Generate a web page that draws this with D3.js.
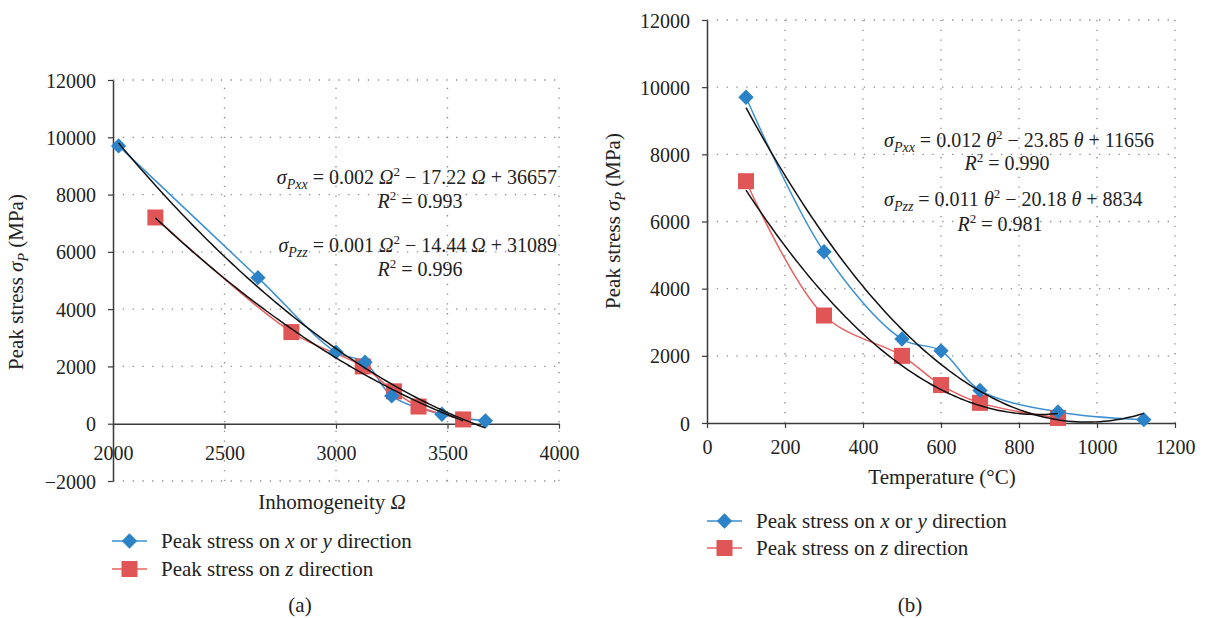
<!DOCTYPE html>
<html><head><meta charset="utf-8">
<script src="https://cdn.jsdelivr.net/npm/d3@7"></script>
<style>
body{margin:0;background:#fff;}
svg{display:block;font-family:"Liberation Serif","Times New Roman",serif;}
</style></head>
<body><svg id="c" width="1205" height="618"></svg>
<script>
// ---------- data ----------
const inhomXY = [2025, 2650, 3000, 3130, 3250, 3475, 3670];
const inhomZ  = [2190, 2800, 3120, 3260, 3370, 3570];
const tempXY  = [100, 300, 500, 600, 700, 900, 1120];
const tempZ   = [100, 300, 500, 600, 700, 900];
const stressXY = [9700, 5100, 2500, 2150, 970, 330, 100];
const stressZ  = [7200, 3200, 2000, 1130, 600, 150];
const ticksInhom = [2000, 2500, 3000, 3500, 4000];
const ticksStressA = [-2000, 0, 2000, 4000, 6000, 8000, 10000, 12000];
const ticksTemp = [0, 200, 400, 600, 800, 1000, 1200];
const ticksStressB = [0, 2000, 4000, 6000, 8000, 10000, 12000];
const seriesNames = ["Peak stress on x or y direction", "Peak stress on z direction"];

const BLUE = "#2b82c6", BLUE_L = "#3b8fd2", RED = "#e05656", RED_L = "#e66060";
const FS = 20, FT = 21;
const svg = d3.select("#c");

function quadFit(xs, ys){
  const m = d3.mean(xs);
  let S=[0,0,0,0,0], T=[0,0,0];
  xs.forEach((x,i)=>{const u=x-m; for(let k=0;k<5;k++) S[k]+=Math.pow(u,k); for(let k=0;k<3;k++) T[k]+=ys[i]*Math.pow(u,k);});
  const A=[[S[0],S[1],S[2],T[0]],[S[1],S[2],S[3],T[1]],[S[2],S[3],S[4],T[2]]];
  for(let i=0;i<3;i++){for(let j=i+1;j<3;j++){const f=A[j][i]/A[i][i];for(let k=i;k<4;k++)A[j][k]-=f*A[i][k];}}
  const c=[0,0,0];
  for(let i=2;i>=0;i--){let s=A[i][3];for(let k=i+1;k<3;k++)s-=A[i][k]*c[k];c[i]=s/A[i][i];}
  return x=>{const u=x-m;return c[0]+c[1]*u+c[2]*u*u;};
}

function panel(o){
  const g = svg.append("g");
  const x = d3.scaleLinear().domain(o.xd).range(o.xr);
  const y = d3.scaleLinear().domain(o.yd).range(o.yr);
  // grid
  g.selectAll(".hg").data(o.yTicks.filter(t=>t!==0)).join("line")
    .attr("x1",o.xr[0]).attr("x2",o.xr[1]).attr("y1",d=>y(d)).attr("y2",d=>y(d))
    .attr("stroke","#8a8a8a").attr("stroke-width",1.3).attr("stroke-dasharray","1.3,8.5");
  g.selectAll(".vg").data(o.xTicks.slice(1)).join("line")
    .attr("x1",d=>x(d)).attr("x2",d=>x(d)).attr("y1",o.yr[0]).attr("y2",o.yr[1])
    .attr("stroke","#8a8a8a").attr("stroke-width",1.3).attr("stroke-dasharray","1.3,8.5");
  // x axis at 0
  const xa = g.append("g").attr("transform",`translate(0,${y(0)})`)
    .call(d3.axisBottom(x).tickValues(o.xTicks).tickSize(5).tickSizeOuter(0).tickFormat(d3.format("d")));
  xa.attr("font-family",null).attr("font-size",null);
  xa.select(".domain").attr("stroke","#3a3a3a").attr("stroke-width",1.5);
  xa.selectAll(".tick line").attr("stroke","#3a3a3a").attr("stroke-width",1.2);
  xa.selectAll(".tick text").attr("font-size",FS).attr("fill","#222")
    .attr("dy",null).attr("y",o.xLabOff);
  // y axis
  const ya = g.append("g").attr("transform",`translate(${o.xr[0]},0)`)
    .call(d3.axisLeft(y).tickValues(o.yTicks).tickSize(5).tickSizeOuter(0).tickFormat(d=>d<0?"\u2212"+Math.abs(d):String(d)));
  ya.attr("font-family",null).attr("font-size",null);
  ya.select(".domain").attr("stroke","#3a3a3a").attr("stroke-width",1.5);
  ya.selectAll(".tick line").attr("stroke","#3a3a3a").attr("stroke-width",1.2);
  ya.selectAll(".tick text").attr("font-size",FS).attr("fill","#222")
    .attr("x",-17).attr("dy","0.35em");
  // series lines
  const line = d3.line().x(d=>x(d[0])).y(d=>y(d[1])).curve(d3.curveCatmullRom.alpha(0.5));
  const bl = o.xsXY.map((v,i)=>[v,stressXY[i]]);
  const rd = o.xsZ.map((v,i)=>[v,stressZ[i]]);
  g.append("path").attr("d",line(bl)).attr("fill","none").attr("stroke",BLUE_L).attr("stroke-width",1.5);
  g.append("path").attr("d",line(rd)).attr("fill","none").attr("stroke",RED_L).attr("stroke-width",1.5);
  // markers
  g.selectAll(".sq").data(rd).join("rect").attr("x",d=>x(d[0])-8).attr("y",d=>y(d[1])-8)
    .attr("width",16).attr("height",16).attr("fill",RED);
  g.selectAll(".dm").data(bl).join("path").attr("d",d3.symbol(d3.symbolDiamond2,150)())
    .attr("transform",d=>`translate(${x(d[0])},${y(d[1])})`).attr("fill",BLUE);
  // trendlines
  [[o.xsXY,stressXY],[o.xsZ,stressZ]].forEach(([xs,ys])=>{
    const f = quadFit(xs,ys);
    const pts = d3.range(0,101).map(i=>{const xv=xs[0]+(xs[xs.length-1]-xs[0])*i/100;return [xv,f(xv)];});
    g.append("path").attr("d",d3.line().x(d=>x(d[0])).y(d=>y(d[1]))(pts))
      .attr("fill","none").attr("stroke","#111").attr("stroke-width",1.5);
  });
  // axis titles
  const yt = g.append("text").attr("transform",`translate(${o.ytX},${o.ytY}) rotate(-90)`)
    .attr("text-anchor","middle").attr("font-size",FT).attr("fill","#222");
  yt.append("tspan").text("Peak stress ");
  yt.append("tspan").attr("font-style","italic").text("\u03C3");
  yt.append("tspan").attr("font-style","italic").attr("font-size",14).attr("dy",5).text("P");
  yt.append("tspan").attr("dy",-5).text(" (MPa)");
  const xt = g.append("text").attr("x",o.xtX).attr("y",o.xtY).attr("text-anchor","middle")
    .attr("font-size",FT).attr("fill","#222");
  o.xTitle.forEach(s=>xt.append("tspan").attr("font-style",s[1]?"italic":null).text(s[0]));
  // equations
  o.eqs.forEach(e=>{
    const t = g.append("text").attr("x",e.x).attr("y",e.y).attr("text-anchor",e.anchor)
      .attr("font-size",FS).attr("fill","#222");
    e.parts.forEach(p=>{
      const ts = t.append("tspan").text(p.t);
      if(p.i) ts.attr("font-style","italic");
      if(p.sz) ts.attr("font-size",p.sz);
      if(p.dy) ts.attr("dy",p.dy);
    });
  });
  // legend
  seriesNames.forEach((nm,i)=>{
    const ly = o.legY[i], lx = o.legX;
    g.append("line").attr("x1",lx).attr("x2",lx+35).attr("y1",ly).attr("y2",ly)
      .attr("stroke",i?RED_L:BLUE_L).attr("stroke-width",1.5);
    if(i) g.append("rect").attr("x",lx+17.5-8).attr("y",ly-8).attr("width",16).attr("height",16).attr("fill",RED);
    else g.append("path").attr("d",d3.symbol(d3.symbolDiamond2,150)()).attr("transform",`translate(${lx+17.5},${ly})`).attr("fill",BLUE);
    const t = g.append("text").attr("x",lx+49).attr("y",ly).attr("dy","0.35em").attr("font-size",FT).attr("fill","#222");
    if(i){ t.append("tspan").text("Peak stress on "); t.append("tspan").attr("font-style","italic").text("z"); t.append("tspan").text(" direction"); }
    else { t.append("tspan").text("Peak stress on "); t.append("tspan").attr("font-style","italic").text("x"); t.append("tspan").text(" or "); t.append("tspan").attr("font-style","italic").text("y"); t.append("tspan").text(" direction"); }
  });
  g.append("text").attr("x",o.capX).attr("y",605).attr("dy","0.35em").attr("text-anchor","middle")
    .attr("font-size",FT).attr("fill","#222").text(o.cap);
}

function eqParts(sub, a, v, b, c){
  return [
    {t:"\u03C3",i:1},{t:"P"+sub,i:1,sz:14,dy:5},{t:" = "+a+" ",dy:-5},{t:v,i:1},{t:"2",sz:13,dy:-8},
    {t:" \u2212 "+b+" ",dy:8},{t:v,i:1},{t:" + "+c}
  ];
}
function r2Parts(val){ return [{t:"R",i:1},{t:"2",sz:13,dy:-8},{t:" = "+val,dy:8}]; }

panel({
  xd:[2000,4000], xr:[113,559], yd:[-2000,12000], yr:[481,80],
  xTicks:ticksInhom, yTicks:ticksStressA, xLabOff:36,
  xsXY:inhomXY, xsZ:inhomZ,
  ytX:23, ytY:282, xtX:332, xtY:509, xTitle:[["Inhomogeneity "],["\u03A9",1]],
  eqs:[
    {x:557,y:184,anchor:"end",parts:eqParts("xx","0.002","\u03A9","17.22","36657")},
    {x:420,y:208,anchor:"middle",parts:r2Parts("0.993")},
    {x:557,y:252,anchor:"end",parts:eqParts("zz","0.001","\u03A9","14.44","31089")},
    {x:420,y:276,anchor:"middle",parts:r2Parts("0.996")}
  ],
  legX:112, legY:[541,569], capX:300, cap:"(a)"
});
panel({
  xd:[0,1200], xr:[707,1175], yd:[0,12000], yr:[423,20],
  xTicks:ticksTemp, yTicks:ticksStressB, xLabOff:31,
  xsXY:tempXY, xsZ:tempZ,
  ytX:620, ytY:221, xtX:942, xtY:484, xTitle:[["Temperature (°C)"]],
  eqs:[
    {x:884,y:147,anchor:"start",parts:eqParts("xx","0.012","\u03B8","23.85","11656")},
    {x:1007,y:170,anchor:"middle",parts:r2Parts("0.990")},
    {x:884,y:206,anchor:"start",parts:eqParts("zz","0.011","\u03B8","20.18","8834")},
    {x:1000,y:231,anchor:"middle",parts:r2Parts("0.981")}
  ],
  legX:707, legY:[521,548], capX:910, cap:"(b)"
});
</script></body></html>
